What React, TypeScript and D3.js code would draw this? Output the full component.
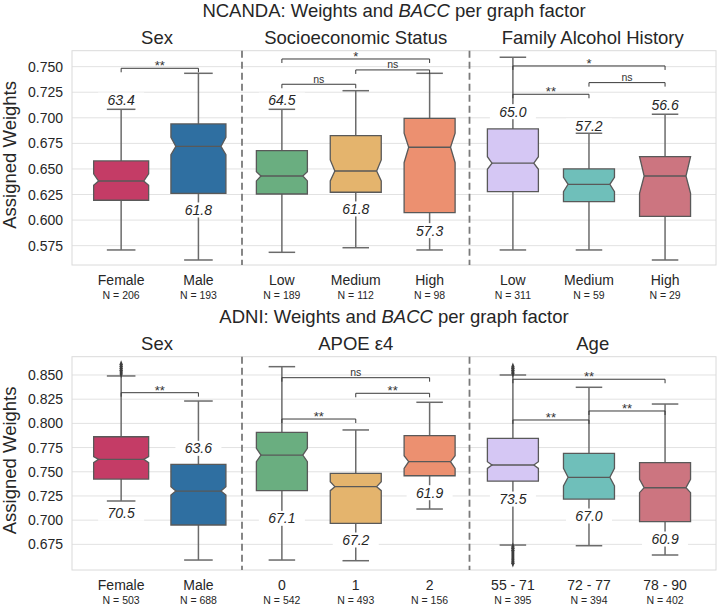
import React, { useEffect, useRef } from 'react';
import * as d3 from 'd3';

// box stats: [lower whisker, Q1, notch low, median, notch high, Q3, upper whisker]

// NCANDA
const ncandaSexCats = ['Female', 'Male'];
const ncandaSexN = [206, 193];
const ncandaSexBoxes = [
    [0.5708, 0.6194, 0.6340, 0.6382, 0.6453, 0.6578, 0.7083],
    [0.5610, 0.6262, 0.6640, 0.6720, 0.6810, 0.6940, 0.7435],
];
const ncandaSexLabels = ['63.4', '61.8'];
const ncandaSexLabelY = [0.7174, 0.6099];
const ncandaSexSig: [number, number, number, string][] = [[0, 1, 0.7484, '**']];

const sesCats = ['Low', 'Medium', 'High'];
const sesN = [189, 112, 98];
const sesBoxes = [
    [0.5685, 0.6255, 0.6383, 0.6431, 0.6473, 0.6679, 0.7083],
    [0.5730, 0.6272, 0.6383, 0.6480, 0.6588, 0.6826, 0.7265],
    [0.5708, 0.6073, 0.6561, 0.6712, 0.6850, 0.6995, 0.7435],
];
const sesLabels = ['64.5', '61.8', '57.3'];
const sesLabelY = [0.7174, 0.6109, 0.5897];
const sesSig: [number, number, number, string][] = [[0, 2, 0.7575, '*'], [1, 2, 0.7468, 'ns'], [0, 1, 0.7328, 'ns']];

const fahCats = ['Low', 'Medium', 'High'];
const fahN = [311, 59, 29];
const fahBoxes = [
    [0.5708, 0.6278, 0.6497, 0.6556, 0.6620, 0.6891, 0.7592],
    [0.5708, 0.6180, 0.6278, 0.6350, 0.6419, 0.6500, 0.6849],
    [0.5610, 0.6037, 0.6262, 0.6431, 0.6620, 0.6620, 0.7035],
];
const fahLabels = ['65.0', '57.2', '56.6'];
const fahLabelY = [0.7060, 0.6920, 0.7125];
const fahSig: [number, number, number, string][] = [[0, 2, 0.7507, '*'], [1, 2, 0.7344, 'ns'], [0, 1, 0.7230, '**']];

// ADNI
const adniSexCats = ['Female', 'Male'];
const adniSexN = [503, 688];
const adniSexBoxes = [
    [0.7198, 0.7425, 0.7594, 0.7628, 0.7656, 0.7862, 0.8490],
    [0.6588, 0.6950, 0.7260, 0.7301, 0.7346, 0.7577, 0.8231],
];
const adniSexOutliers = [[0.851, 0.853, 0.855, 0.857, 0.859, 0.861], []];
const adniSexLabels = ['70.5', '63.6'];
const adniSexLabelY = [0.7071, 0.7742];
const adniSexSig: [number, number, number, string][] = [[0, 1, 0.8317, '**']];

const apoeCats = ['0', '1', '2'];
const apoeN = [542, 493, 156];
const apoeBoxes = [
    [0.6588, 0.7305, 0.7604, 0.7673, 0.7742, 0.7908, 0.8586],
    [0.6581, 0.6967, 0.7305, 0.7346, 0.7397, 0.7484, 0.7932],
    [0.7115, 0.7459, 0.7535, 0.7604, 0.7666, 0.7873, 0.8218],
];
const apoeLabels = ['67.1', '67.2', '61.9'];
const apoeLabelY = [0.7019, 0.6795, 0.7284];
const apoeSig: [number, number, number, string][] = [[0, 2, 0.8472, 'ns'], [1, 2, 0.8311, '**'], [0, 1, 0.8045, '**']];

const ageCats = ['55 - 71', '72 - 77', '78 - 90'];
const ageN = [395, 394, 402];
const ageBoxes = [
    [0.6743, 0.7404, 0.7535, 0.7570, 0.7604, 0.7846, 0.8500],
    [0.6736, 0.7218, 0.7353, 0.7443, 0.7535, 0.7690, 0.8373],
    [0.6640, 0.6984, 0.7284, 0.7335, 0.7422, 0.7594, 0.8200],
];
const ageOutliers = [
    [0.6555, 0.657, 0.659, 0.661, 0.663, 0.665, 0.667, 0.669, 0.671, 0.6725, 0.8515, 0.853, 0.855, 0.857, 0.8585],
    [],
    [],
];
const ageLabels = ['73.5', '67.0', '60.9'];
const ageLabelY = [0.7218, 0.7043, 0.6805];
const ageSig: [number, number, number, string][] = [[0, 2, 0.8456, '**'], [1, 2, 0.8128, '**'], [0, 1, 0.8035, '**']];

const ncandaTicks = [0.575, 0.6, 0.625, 0.65, 0.675, 0.7, 0.725, 0.75];
const adniTicks = [0.675, 0.7, 0.725, 0.75, 0.775, 0.8, 0.825, 0.85];

const sexColors = ['#c43c66', '#2f6fa1'];
const threeColorsA = ['#6aae80', '#e4b46d', '#ec9070'];
const threeColorsB = ['#d5c7f4', '#6fbfba', '#cc7580'];

const FONT = '"Liberation Sans", Arial, Helvetica, sans-serif';
const TEXT = '#262626';

interface Panel {
    title: string;
    cats: string[];
    n: number[];
    boxes: number[][];
    outliers?: number[][];
    colors: string[];
    labels: string[];
    labelY: number[];
    sig: [number, number, number, string][];
}

interface Row {
    name: string;
    domain: [number, number];
    top: number;
    bottom: number;
    ticks: number[];
    panels: Panel[];
}

const rows: Row[] = [
    {
        name: 'NCANDA', domain: [0.5561, 0.7656], top: 50.7, bottom: 265, ticks: ncandaTicks,
        panels: [
            { title: 'Sex', cats: ncandaSexCats, n: ncandaSexN, boxes: ncandaSexBoxes, colors: sexColors, labels: ncandaSexLabels, labelY: ncandaSexLabelY, sig: ncandaSexSig },
            { title: 'Socioeconomic Status', cats: sesCats, n: sesN, boxes: sesBoxes, colors: threeColorsA, labels: sesLabels, labelY: sesLabelY, sig: sesSig },
            { title: 'Family Alcohol History', cats: fahCats, n: fahN, boxes: fahBoxes, colors: threeColorsB, labels: fahLabels, labelY: fahLabelY, sig: fahSig },
        ],
    },
    {
        name: 'ADNI', domain: [0.6485, 0.8689], top: 356.7, bottom: 570, ticks: adniTicks,
        panels: [
            { title: 'Sex', cats: adniSexCats, n: adniSexN, boxes: adniSexBoxes, outliers: adniSexOutliers, colors: sexColors, labels: adniSexLabels, labelY: adniSexLabelY, sig: adniSexSig },
            { title: 'APOE ε4', cats: apoeCats, n: apoeN, boxes: apoeBoxes, colors: threeColorsA, labels: apoeLabels, labelY: apoeLabelY, sig: apoeSig },
            { title: 'Age', cats: ageCats, n: ageN, boxes: ageBoxes, outliers: ageOutliers, colors: threeColorsB, labels: ageLabels, labelY: ageLabelY, sig: ageSig },
        ],
    },
];

// horizontal layout of the three panels in each row
const panelX = [
    { x0: 72, x1: 242, padding: 0.6, align: 0.53, boxWidth: 55 },
    { x0: 242, x1: 469.5, padding: 0.54, align: 0.5, boxWidth: 51 },
    { x0: 469.5, x1: 716, padding: 0.62, align: 0.46, boxWidth: 51 },
];

export default function App() {
    const ref = useRef<SVGSVGElement>(null);

    useEffect(() => {
        const svg = d3.select(ref.current);
        svg.selectAll('*').remove();
        svg.append('rect').attr('width', 723).attr('height', 610).attr('fill', '#fff');

        rows.forEach(row => {
            const y = d3.scaleLinear().domain(row.domain).range([row.bottom, row.top]);
            const g = svg.append('g').attr('font-family', FONT);
            const left = panelX[0].x0;
            const right = panelX[2].x1;

            // grid
            g.selectAll('line.grid').data(row.ticks).enter().append('line')
                .attr('x1', left).attr('x2', right)
                .attr('y1', d => y(d)).attr('y2', d => y(d))
                .attr('stroke', '#e2e2e2').attr('stroke-width', 1);
            g.append('rect')
                .attr('x', left).attr('y', row.top)
                .attr('width', right - left).attr('height', row.bottom - row.top)
                .attr('fill', 'none').attr('stroke', '#dadada').attr('stroke-width', 1);

            // y ticks
            g.selectAll('text.tick').data(row.ticks).enter().append('text')
                .attr('x', 63).attr('y', d => y(d)).attr('dy', '0.36em')
                .attr('text-anchor', 'end').attr('font-size', 14).attr('fill', TEXT)
                .text(d => d3.format('.3f')(d));

            // y label
            const midY = (row.top + row.bottom) / 2 - 3;
            g.append('text')
                .attr('transform', `translate(16,${midY}) rotate(-90)`)
                .attr('text-anchor', 'middle').attr('font-size', 18.5).attr('fill', TEXT)
                .text('Assigned Weights');

            // row title
            const title = g.append('text')
                .attr('x', (left + right) / 2).attr('y', row.top - 33.5)
                .attr('text-anchor', 'middle').attr('font-size', 18.5).attr('fill', TEXT);
            title.append('tspan').text(`${row.name}: Weights and `);
            title.append('tspan').attr('font-style', 'italic').text('BACC');
            title.append('tspan').text(' per graph factor');

            row.panels.forEach((p, pi) => {
                const lay = panelX[pi];
                const x = d3.scalePoint<string>().domain(p.cats).range([lay.x0, lay.x1])
                    .padding(lay.padding).align(lay.align);
                const bw = lay.boxWidth;
                const capW = bw * 0.52;
                const indent = bw * 0.09;
                const pg = g.append('g');

                pg.append('text')
                    .attr('x', (lay.x0 + lay.x1) / 2).attr('y', row.top - 7)
                    .attr('text-anchor', 'middle').attr('font-size', 18.5).attr('fill', TEXT)
                    .text(p.title);

                p.cats.forEach((c, i) => {
                    const cx = x(c) as number;
                    pg.append('text').attr('x', cx).attr('y', row.bottom + 20)
                        .attr('text-anchor', 'middle').attr('font-size', 14).attr('fill', TEXT).text(c);
                    pg.append('text').attr('x', cx).attr('y', row.bottom + 34)
                        .attr('text-anchor', 'middle').attr('font-size', 10.5).attr('fill', TEXT).text(`N = ${p.n[i]}`);
                });

                p.boxes.forEach((b, i) => {
                    const cx = x(p.cats[i]) as number;
                    const [wLo, q1, , , , q3, wHi] = b;
                    // whiskers
                    pg.append('line').attr('x1', cx).attr('x2', cx).attr('y1', y(q3)).attr('y2', y(wHi))
                        .attr('stroke', '#6b6b6b').attr('stroke-width', 1.5);
                    pg.append('line').attr('x1', cx).attr('x2', cx).attr('y1', y(q1)).attr('y2', y(wLo))
                        .attr('stroke', '#6b6b6b').attr('stroke-width', 1.5);
                });

                // value labels with white background
                p.labels.forEach((t, i) => {
                    const cx = x(p.cats[i]) as number;
                    const ly = y(p.labelY[i]);
                    pg.append('rect').attr('x', cx - 23).attr('y', ly - 7.5).attr('width', 46).attr('height', 15)
                        .attr('fill', '#fff');
                    pg.append('text').attr('x', cx).attr('y', ly).attr('dy', '0.36em')
                        .attr('text-anchor', 'middle').attr('font-size', 14).attr('font-style', 'italic')
                        .attr('fill', TEXT).text(t);
                });

                p.boxes.forEach((b, i) => {
                    const cx = x(p.cats[i]) as number;
                    const [wLo, q1, nLo, med, nHi, q3, wHi] = b;
                    [wLo, wHi].forEach(v => {
                        pg.append('line').attr('x1', cx - capW / 2).attr('x2', cx + capW / 2)
                            .attr('y1', y(v)).attr('y2', y(v))
                            .attr('stroke', '#6b6b6b').attr('stroke-width', 1.5);
                    });
                    const l = cx - bw / 2;
                    const r = cx + bw / 2;
                    const path = d3.path();
                    path.moveTo(l, y(q3));
                    path.lineTo(r, y(q3));
                    path.lineTo(r, y(nHi));
                    path.lineTo(r - indent, y(med));
                    path.lineTo(r, y(nLo));
                    path.lineTo(r, y(q1));
                    path.lineTo(l, y(q1));
                    path.lineTo(l, y(nLo));
                    path.lineTo(l + indent, y(med));
                    path.lineTo(l, y(nHi));
                    path.closePath();
                    pg.append('path').attr('d', path.toString())
                        .attr('fill', p.colors[i]).attr('stroke', '#595959').attr('stroke-width', 1.3)
                        .attr('stroke-linejoin', 'miter');
                    pg.append('line').attr('x1', l + indent).attr('x2', r - indent)
                        .attr('y1', y(med)).attr('y2', y(med))
                        .attr('stroke', '#595959').attr('stroke-width', 1.3);

                    const outs = p.outliers ? p.outliers[i] : [];
                    pg.selectAll(null).data(outs).enter().append('path')
                        .attr('d', d3.symbol().type(d3.symbolDiamond).size(14)())
                        .attr('transform', d => `translate(${cx},${y(d)}) scale(0.8,1.2)`)
                        .attr('fill', '#3d3d3d');
                });

                // significance brackets
                p.sig.forEach(([a, bIdx, v, t]) => {
                    const xa = x(p.cats[a]) as number;
                    const xb = x(p.cats[bIdx]) as number;
                    const yy = y(v);
                    const star = t.startsWith('*');
                    pg.append('path')
                        .attr('d', `M${xa},${yy + 4}V${yy}H${xb}V${yy + 4}`)
                        .attr('fill', 'none').attr('stroke', '#3a3a3a').attr('stroke-width', 1);
                    pg.append('text').attr('x', (xa + xb) / 2).attr('y', star ? yy + 2 : yy - 1.5)
                        .attr('text-anchor', 'middle').attr('font-size', star ? 13 : 10.5)
                        .attr('fill', '#333').text(t);
                });
            });

            // dashed separators
            [panelX[1].x0, panelX[2].x0].forEach(sx => {
                g.append('line').attr('x1', sx).attr('x2', sx).attr('y1', row.top).attr('y2', row.bottom)
                    .attr('stroke', '#7a7a7a').attr('stroke-width', 1.8).attr('stroke-dasharray', '7,4');
            });
        });
    }, []);

    return (
        <svg ref={ref} width={723} height={610}
            style={{ position: 'absolute', left: 0, top: 0, display: 'block' }} />
    );
}
